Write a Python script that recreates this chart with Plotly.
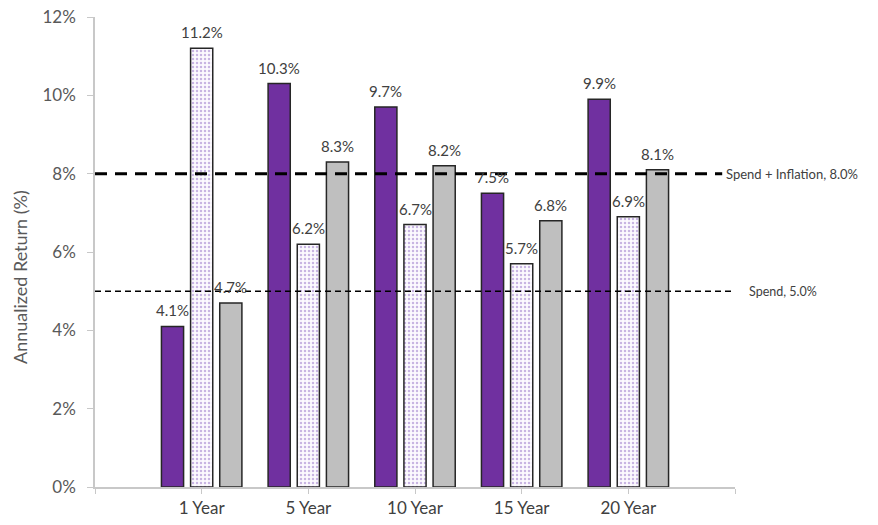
import plotly.graph_objects as go

# Horizons and annualized returns (%) for the three series
horizons = ["1 Year", "5 Year", "10 Year", "15 Year", "20 Year"]
series_a = [4.1, 10.3, 9.7, 7.5, 9.9]
series_b = [11.2, 6.2, 6.7, 5.7, 6.9]
series_c = [4.7, 8.3, 8.2, 6.8, 8.1]

# Reference hurdle rates (%)
hurdle_names = ["Spend + Inflation", "Spend"]
hurdle_values = [8.0, 5.0]

y_ticks = [0, 2, 4, 6, 8, 10, 12]

FONT = "Lato, Open Sans, sans-serif"
BARGAP, BARGROUPGAP = 0.18, 0.24
xpos = list(range(1, len(horizons) + 1))
outline = dict(color="#262626", width=1.5)

fig = go.Figure()

bar_specs = [
    (series_a, dict(color="#7030A0", line=outline)),
    (series_b, dict(color="white", line=outline,
                    pattern=dict(shape=".", fgcolor="#9470C6", bgcolor="#FCFAFE",
                                 size=4, solidity=0.3))),
    (series_c, dict(color="#BFBFBF", line=outline)),
]
n = len(bar_specs)
slot = (1 - BARGAP) / n
for i, (vals, marker) in enumerate(bar_specs):
    fig.add_trace(go.Bar(x=xpos, y=vals, marker=marker, showlegend=False))
    # value labels sit a little above each bar
    offset = (i - (n - 1) / 2) * slot
    for xp, v in zip(xpos, vals):
        fig.add_annotation(
            x=xp + offset, y=v, xref="x", yref="y", text=f"{v:.1f}%",
            showarrow=False, xanchor="center", yanchor="bottom", yshift=5,
            font=dict(family=FONT, size=15, color="#404040"),
        )

# Dashed hurdle lines with their labels at the right end
line_styles = [
    dict(x_end=5.88, width=3, dash="12px,8px", shift=2, size=13),
    dict(x_end=5.98, width=1.5, dash="6px,4px", shift=14, size=12.5),
]
for name, val, st in zip(hurdle_names, hurdle_values, line_styles):
    fig.add_trace(go.Scatter(
        x=[0, st["x_end"]], y=[val, val], mode="lines",
        line=dict(color="black", width=st["width"], dash=st["dash"]),
        showlegend=False, hoverinfo="skip", cliponaxis=False,
    ))
    fig.add_annotation(
        x=st["x_end"], y=val, xref="x", yref="y",
        text=f"{name}, {val:.1f}%", showarrow=False,
        xanchor="left", yanchor="middle", xshift=st["shift"],
        font=dict(family=FONT, size=st["size"], color="#404040"),
    )

fig.add_annotation(
    text="Annualized Return (%)", textangle=-90, showarrow=False,
    xref="paper", yref="paper", x=(20 - 95) / 640, y=(487 - 277) / 470,
    xanchor="center", yanchor="middle",
    font=dict(family=FONT, size=18, color="#595959"),
)

fig.update_layout(
    width=878, height=525,
    margin=dict(l=95, r=143, t=17, b=38),
    paper_bgcolor="white", plot_bgcolor="white",
    barmode="group", bargap=BARGAP, bargroupgap=BARGROUPGAP,
    font=dict(family=FONT, color="#595959"),
)
fig.update_xaxes(
    range=[0, 6], automargin=False,
    tickvals=[0] + xpos + [6], ticktext=[""] + horizons + [""],
    showline=True, linecolor="#C8C8C8", linewidth=1.5,
    ticks="outside", ticklen=5, tickcolor="#C8C8C8",
    showgrid=False, zeroline=False,
    tickfont=dict(size=17, color="#404040"),
)
fig.update_yaxes(
    range=[0, 12], automargin=False,
    tickvals=y_ticks, ticktext=[f"{t}%" for t in y_ticks],
    showline=True, linecolor="#C8C8C8", linewidth=1.5,
    ticks="outside", ticklen=6, tickcolor="#C8C8C8",
    showgrid=False, zeroline=False, ticklabelstandoff=8,
    tickfont=dict(size=17, color="#595959"),
)

fig.write_html("out.html")
